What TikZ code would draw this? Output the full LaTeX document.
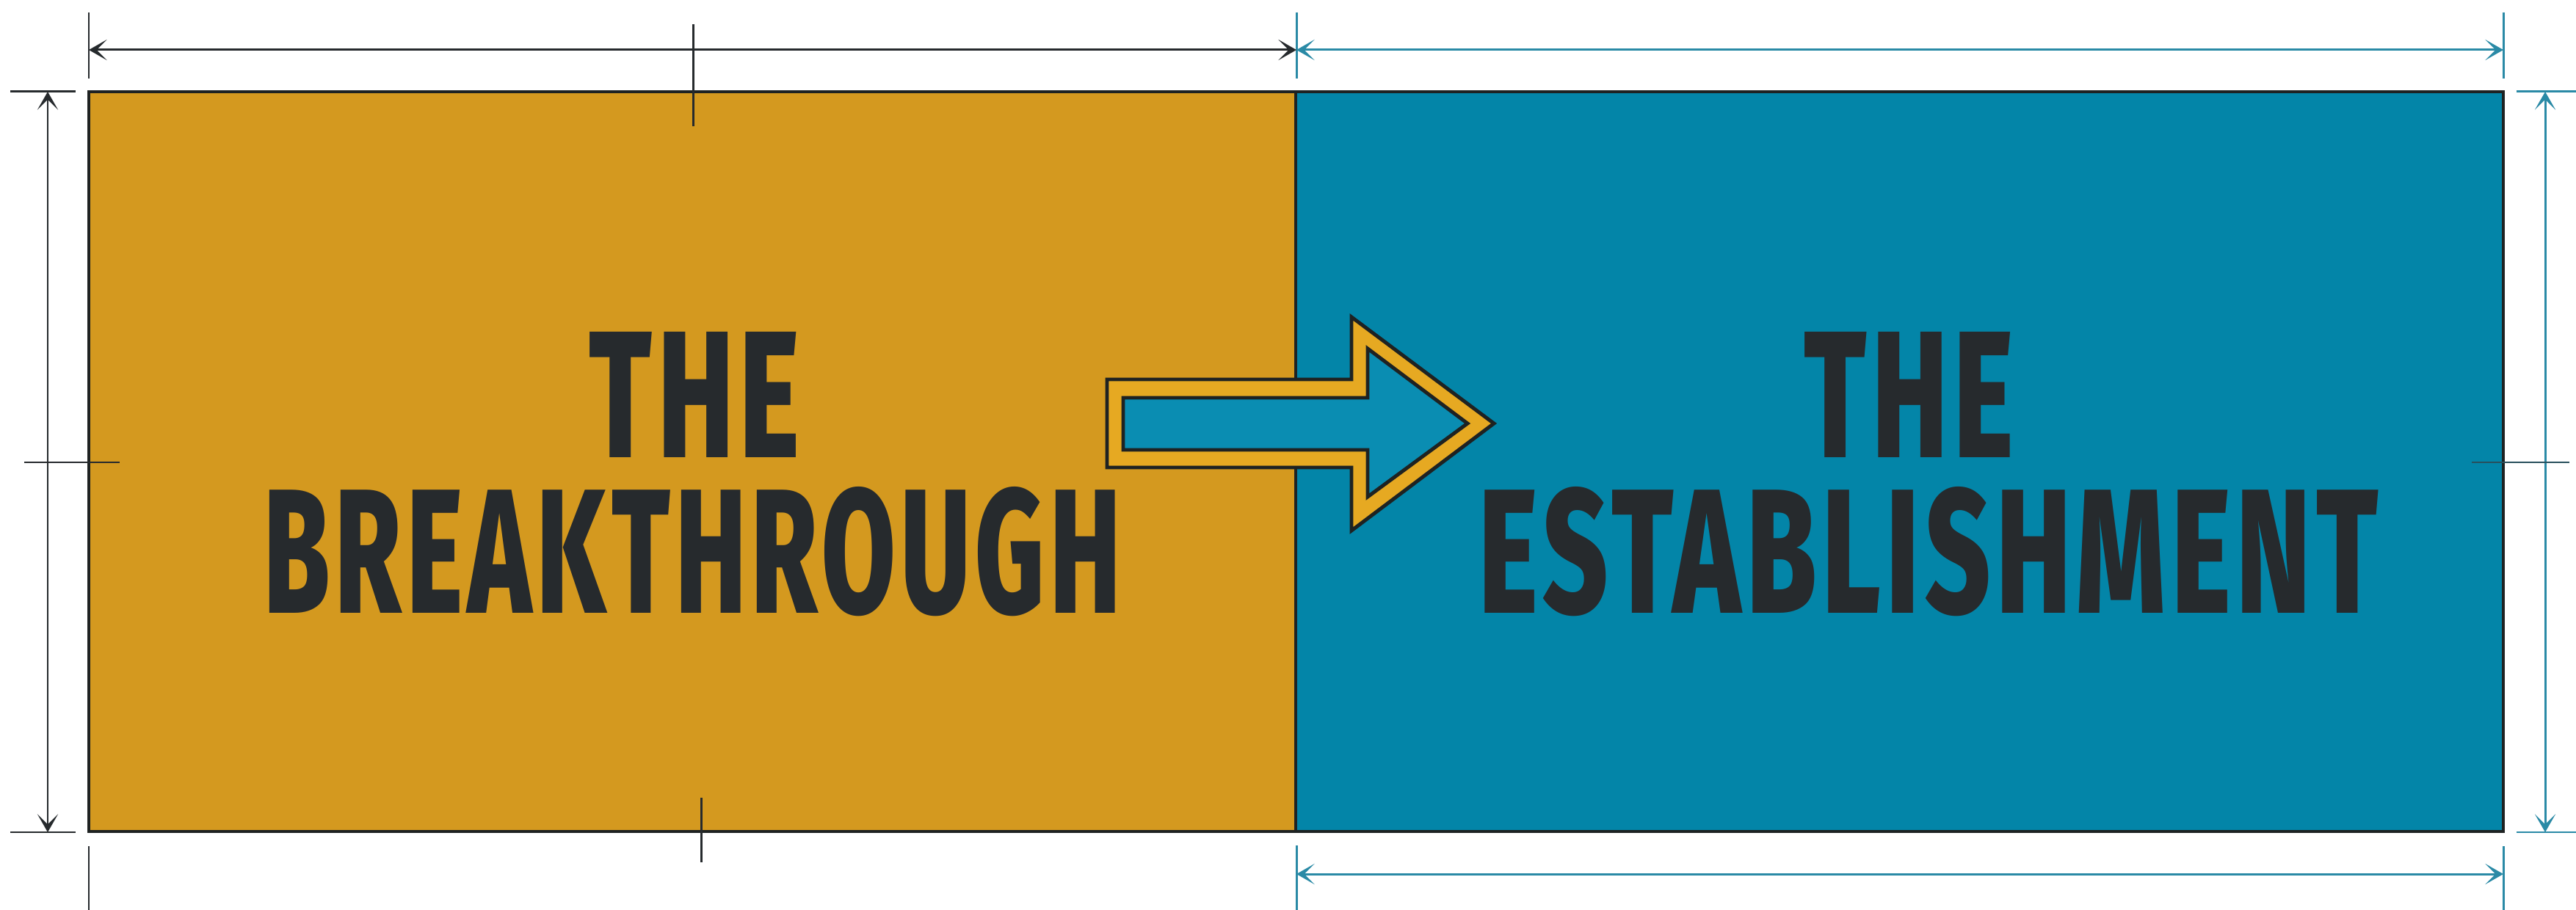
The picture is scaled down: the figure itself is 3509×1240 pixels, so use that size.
\documentclass[tikz,border=0pt]{standalone}
\usepackage{fontspec}
\setmainfont{Fira Sans}
\IfFontExistsTF{Fira Sans ExtraBold}
  {\newfontfamily\headfont{Fira Sans ExtraBold}[LetterSpace=5]}
  {\newfontfamily\headfont{Fira Sans}[UprightFont=*~Bold, LetterSpace=5]}
\usetikzlibrary{arrows.meta}
\definecolor{mustard}{HTML}{D4991F}
\definecolor{tealfill}{HTML}{0385A8}
\definecolor{bandcol}{HTML}{E6A922}
\definecolor{innerteal}{HTML}{0A8DB2}
\definecolor{ink}{HTML}{262A2D}
\definecolor{dimteal}{HTML}{2A8AA6}
\definecolor{edgecol}{HTML}{1E2222}
\begin{document}
\begin{tikzpicture}[x=0.01cm,y=-0.01cm,
  dimblack/.style={draw=ink, line width=0.85pt},
  dimtl/.style={draw=dimteal, line width=0.85pt},
  dimarrows/.style={{Stealth[length=7pt,width=8pt,inset=4pt]}-{Stealth[length=7pt,width=8pt,inset=4pt]}},
  panel/.style={draw=edgecol, line width=1.15pt},
  arrowshape/.style={draw=edgecol, line width=1.4pt, line join=miter},
  label/.style={inner sep=0pt, text=ink, font=\headfont, anchor=north}]
\useasboundingbox (0,0) rectangle (3509,1240);
\fill[white] (0,0) rectangle (3509,1240);
% corners
\coordinate (TL) at (121,125);
\coordinate (TM) at (1765,125);
\coordinate (TR) at (3410,125);
\coordinate (BL) at (121,1133);
\coordinate (BM) at (1765,1133);
\coordinate (BR) at (3410,1133);
% panels
\fill[mustard] (TL) rectangle (BM);
\fill[tealfill] (TM) rectangle (BR);
\draw[panel] (TL) rectangle (BR);
\draw[panel] (TM) -- (BM);
% block arrow
\draw[arrowshape, fill=bandcol] (1508,517) -- (1841,517) -- (1841,432) -- (2035,577) -- (1841,723) -- (1841,637) -- (1508,637) -- cycle;
\draw[arrowshape, fill=innerteal] (1530,542) -- (1863,542) -- (1863,475) -- (1999,577) -- (1863,677) -- (1863,613) -- (1530,613) -- cycle;
% labels
\node[label] (l1) at (946,452) {\resizebox{2.86cm}{1.71cm}{THE}};
\node[label] (l2) at (943,663) {\resizebox{11.66cm}{1.72cm}{BREAKTHROUGH}};
\node[label] (r1) at (2600,452) {\resizebox{2.85cm}{1.71cm}{THE}};
\node[label] (r2) at (2627,663) {\resizebox{12.24cm}{1.72cm}{ESTABLISHMENT}};
% top dimension
\coordinate (t1a) at (121,17);  \coordinate (t1b) at (121,107);
\coordinate (t2a) at (1766,17); \coordinate (t2b) at (1766,107);
\coordinate (t3a) at (3410,17); \coordinate (t3b) at (3410,107);
\coordinate (d1) at (121,68); \coordinate (d2) at (1766,68); \coordinate (d3) at (3410,68);
\draw[dimblack] (t1a) -- (t1b);
\draw[dimtl] (t2a) -- (t2b);
\draw[dimtl] (t3a) -- (t3b);
\draw[dimblack, dimarrows] (d1) -- (d2);
\draw[dimtl, dimarrows] (d2) -- (d3);
\coordinate (mtA) at (944,33); \coordinate (mtB) at (944,172);
\draw[dimblack] (mtA) -- (mtB);
% left dimension
\coordinate (lh1a) at (14,125); \coordinate (lh1b) at (103,125);
\coordinate (lh2a) at (14,1134); \coordinate (lh2b) at (103,1134);
\coordinate (lv1) at (65,125); \coordinate (lv2) at (65,1134);
\draw[dimblack] (lh1a) -- (lh1b);
\draw[dimblack] (lh2a) -- (lh2b);
\draw[dimblack, dimarrows] (lv1) -- (lv2);
\coordinate (lmA) at (33,630); \coordinate (lmB) at (163,630);
\draw[dimblack] (lmA) -- (lmB);
% right dimension
\coordinate (rh1a) at (3428,125); \coordinate (rh1b) at (3509,125);
\coordinate (rh2a) at (3428,1134); \coordinate (rh2b) at (3509,1134);
\coordinate (rv1) at (3467,125); \coordinate (rv2) at (3467,1134);
\draw[dimtl] (rh1a) -- (rh1b);
\draw[dimtl] (rh2a) -- (rh2b);
\draw[dimtl, dimarrows] (rv1) -- (rv2);
\coordinate (rmA) at (3367,630); \coordinate (rmB) at (3500,630);
\draw[draw=ink!60!dimteal, line width=0.85pt] (rmA) -- (rmB);
% bottom dimension
\coordinate (b1a) at (121,1153);  \coordinate (b1b) at (121,1240);
\coordinate (b2a) at (1766,1152); \coordinate (b2b) at (1766,1240);
\coordinate (b3a) at (3410,1153); \coordinate (b3b) at (3410,1240);
\coordinate (bd2) at (1766,1191); \coordinate (bd3) at (3410,1191);
\draw[dimblack] (b1a) -- (b1b);
\draw[dimtl] (b2a) -- (b2b);
\draw[dimtl] (b3a) -- (b3b);
\draw[dimtl, dimarrows] (bd2) -- (bd3);
\coordinate (mbA) at (955,1087); \coordinate (mbB) at (955,1175);
\draw[dimblack] (mbA) -- (mbB);
\end{tikzpicture}
\end{document}
